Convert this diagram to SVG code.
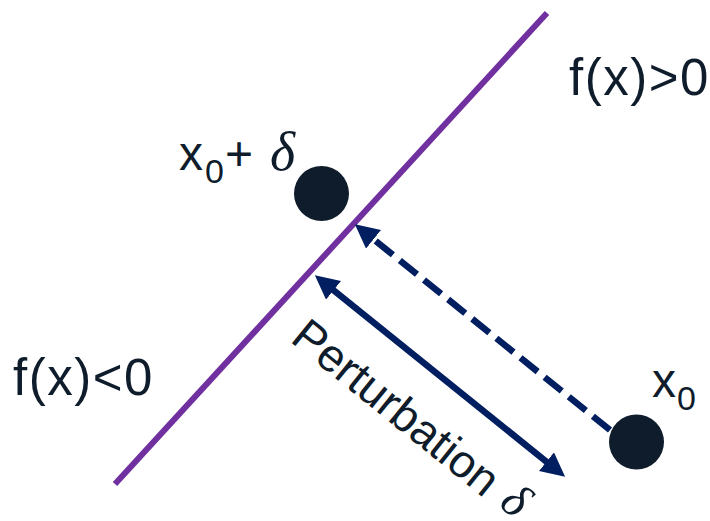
<svg xmlns="http://www.w3.org/2000/svg" width="710" height="521" viewBox="0 0 710 521">
<style>
.t{font-family:"Liberation Sans",Arial,sans-serif;fill:#0E1C2B}
.d{font-family:"Liberation Serif","DejaVu Serif",serif;font-style:italic}
.dot{fill:#0E1C2B}
.arr{stroke:#001E60;stroke-width:6.5;fill:none}
</style>
<defs>
<marker id="ah" viewBox="0 0 24 24" refX="2" refY="12" markerWidth="24" markerHeight="24" markerUnits="userSpaceOnUse" orient="auto-start-reverse">
<path d="M0,0 L24,12 L0,24 z" fill="#001E60"/>
</marker>
</defs>
<g id="boundary">
<line x1="115" y1="484" x2="547" y2="13" stroke="#7030A0" stroke-width="6"/>
</g>
<g id="connectors">
<line class="arr" x1="610" y1="430" x2="372" y2="238" stroke-dasharray="22 9" marker-end="url(#ah)"/>
<line class="arr" x1="332" y1="289" x2="548" y2="463" marker-start="url(#ah)" marker-end="url(#ah)"/>
</g>
<g id="x0delta">
<circle class="dot" cx="321.5" cy="193.5" r="27.5"/>
<text class="t" font-size="48"><tspan x="179" y="170">x</tspan><tspan x="205" y="183" font-size="34">0</tspan><tspan x="225" y="170">+</tspan><tspan class="d" x="270" y="170" font-size="54">δ</tspan></text>
</g>
<g id="x0">
<circle class="dot" cx="636.5" cy="442" r="27.5"/>
<text class="t" font-size="48"><tspan x="652" y="397">x</tspan><tspan x="677" y="410" font-size="34">0</tspan></text>
</g>
<g id="labels">
<text class="t" x="569" y="95" font-size="51" letter-spacing="1.5">f(x)&gt;0</text>
<text class="t" x="13" y="395" font-size="51" letter-spacing="1.5">f(x)&lt;0</text>
<text class="t" font-size="46" transform="translate(289 341) rotate(38.9)">Perturbation<tspan class="d" dx="15" dy="-3" font-size="48">δ</tspan></text>
</g>
</svg>
